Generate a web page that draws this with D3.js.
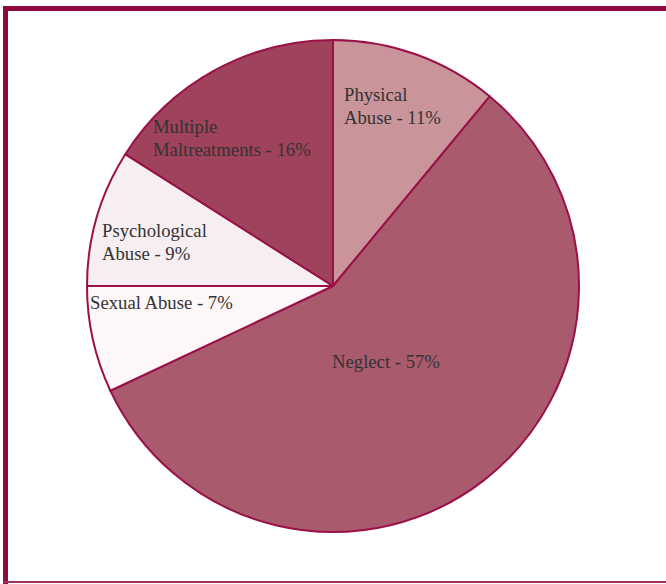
<!DOCTYPE html>
<html>
<head>
<meta charset="utf-8">
<script src="https://cdn.jsdelivr.net/npm/d3@7"></script>
<style>
  body { margin: 0; background: #fff; }
  svg { display: block; }
  .slice-label { font-family: "Liberation Serif", "Times New Roman", serif; font-size: 18.7px; fill: #333; }
</style>
</head>
<body>
<div id="chart"></div>
<script>
const categories = ["Physical Abuse", "Neglect", "Sexual Abuse", "Psychological Abuse", "Multiple Maltreatments"]
const values = [11, 57, 7, 9, 16]
const labelLines = [
    ["Physical", "Abuse - 11%"],
    ["Neglect - 57%"],
    ["Sexual Abuse - 7%"],
    ["Psychological", "Abuse - 9%"],
    ["Multiple", "Maltreatments - 16%"]
]
const colors = ["#c9959b", "#a95b6d", "#fdf7f8", "#f6eef0", "#9f425b"]

// label anchor (left edge, first baseline)
const labelPos = [[344, 101], [332, 368], [90, 309], [102, 237], [153, 133]]

const width = 666, height = 584
const cx = 333, cy = 286, radius = 246

const svg = d3.select("#chart").append("svg")
    .attr("width", width)
    .attr("height", height)

// frame
svg.append("rect")
    .attr("x", 3).attr("y", 6)
    .attr("width", 5).attr("height", height - 6)
    .attr("fill", "#8e0a3e")
svg.append("rect")
    .attr("x", 3).attr("y", 6)
    .attr("width", width).attr("height", 5)
    .attr("fill", "#8e0a3e")
svg.append("rect")
    .attr("x", 3).attr("y", 581)
    .attr("width", width).attr("height", 2)
    .attr("fill", "#a0325c")

const data = categories.map((c, i) => ({ name: c, value: values[i], color: colors[i], lines: labelLines[i], pos: labelPos[i] }))

const pie = d3.pie().value(d => d.value).sort(null)
const arc = d3.arc().innerRadius(0).outerRadius(radius)

const g = svg.append("g").attr("transform", `translate(${cx},${cy})`)

g.selectAll(".slice")
    .data(pie(data))
    .join("path")
        .attr("class", "slice")
        .attr("d", arc)
        .attr("fill", d => d.data.color)
        .attr("stroke", "#9b1048")
        .attr("stroke-width", 2)
        .attr("stroke-linejoin", "round")

const labels = svg.selectAll(".slice-label")
    .data(data)
    .join("text")
        .attr("class", "slice-label")
        .attr("x", d => d.pos[0])
        .attr("y", d => d.pos[1])

labels.selectAll("tspan")
    .data(d => d.lines.map(l => ({ text: l, x: d.pos[0] })))
    .join("tspan")
        .attr("x", d => d.x)
        .attr("dy", (d, i) => i === 0 ? 0 : 23)
        .text(d => d.text)
</script>
</body>
</html>
